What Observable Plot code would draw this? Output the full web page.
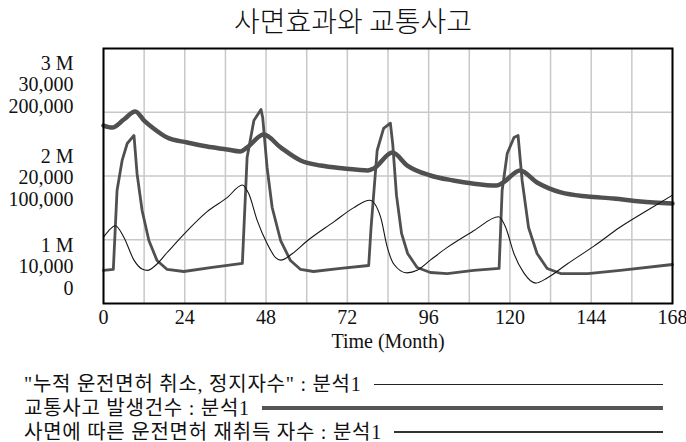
<!DOCTYPE html>
<html><head><meta charset="utf-8">
<script src="https://cdn.jsdelivr.net/npm/d3@7"></script>
<script src="https://cdn.jsdelivr.net/npm/@observablehq/plot@0.6"></script>
<style>
html,body{margin:0;padding:0;background:#fff;}
#wrap{position:relative;width:686px;height:442px;overflow:hidden;font-family:"Liberation Serif","Noto Sans CJK KR",serif;color:#111;background:#fff;}
#title{position:absolute;left:20px;top:0;width:666px;height:40px;line-height:40px;text-align:center;font-family:"Noto Sans CJK KR",sans-serif;font-size:28px;font-weight:300;color:#111;}
#chart{position:absolute;left:0;top:40px;}
#legend{position:absolute;left:24px;top:372px;width:639px;}
.row{display:flex;align-items:center;height:24px;line-height:20px;font-size:20px;letter-spacing:0.75px;white-space:nowrap;}
.row .sw{flex:1;margin-left:12px;}
</style></head><body>
<div id="wrap"><div id="title">사면효과와 교통사고</div><div id="chart"></div><div id="legend"></div></div>
<script>
// ---- data ----
const seriesNames = ['"누적 운전면허 취소, 정지자수" : 분석1', '교통사고 발생건수 : 분석1', '사면에 따른 운전면허 재취득 자수 : 분석1'];
const scaleMin = [1000000, 10000, 0];
const scaleMax = [3000000, 30000, 200000];
const topLabels = ["3 M", "30,000", "200,000"];
const midLabels = ["2 M", "20,000", "100,000"];
const bottomLabels = ["1 M", "10,000", "0"];
const xTicks = [0, 24, 48, 72, 96, 120, 144, 168];
const xGrid = [0, 12, 24, 36, 48, 60, 72, 84, 96, 108, 120, 132, 144, 156, 168];
const xLabel = "Time (Month)";

// 누적 운전면허 취소, 정지자수
const revocMonths = [0,1.5,3.5,6,9,11.4,13,15.4,18.8,24.7,30.6,36.5,41,42.9,45.4,48.3,50.8,52.3,55.7,60.1,68,73.8,78.6,81.8,83.8,85.7,89.6,92.6,96.5,101.5,109.3,116.7,118.7,121.2,124.1,127.6,131,136.9,144.8,152.6,160.5,168];
const revocValues = [1520000,1570000,1610000,1520000,1340000,1270000,1260000,1300000,1400000,1570000,1720000,1830000,1930000,1860000,1650000,1470000,1360000,1340000,1390000,1490000,1640000,1750000,1810000,1680000,1440000,1310000,1240000,1260000,1340000,1440000,1570000,1680000,1600000,1390000,1240000,1160000,1200000,1310000,1450000,1600000,1730000,1850000];

// 교통사고 발생건수
const accMonths = [0,2.6,6,9.4,12,14.8,18.8,24.7,30.6,36.5,40.4,42.4,47.3,52.3,58.2,64.1,71,78,79.8,85.3,89.7,96.5,103.3,109,116,118,123,128,135,142.9,150.6,158.5,168];
const accValues = [23960,23800,24430,25060,24350,23730,23020,22630,22310,22080,21920,22240,23250,22240,21220,20820,20590,20430,20590,21840,20820,20040,19650,19410,19250,19490,20430,19490,18710,18390,18240,18000,17840];

// 사면에 따른 운전면허 재취득 자수
const reacqMonths = [0,2.9,4,5.5,7,9,9.9,11.4,13.4,15.8,18.8,23.7,31.6,41,42.4,44.4,46.5,47,48.3,49.8,52.3,55.2,58.2,62,70,78.3,79,80.8,82.7,84.7,85.4,86.5,88,89.8,92.6,96.5,101.5,109.3,116.8,117.7,119.2,121.2,122.4,123.6,125.5,128,131,135,143,152.6,168];
const reacqValues = [25900,26700,88600,112200,125500,131800,102000,72900,49400,33700,26700,25100,28200,31400,114500,143500,152200,145900,106700,75300,49400,33700,26700,25100,27500,29800,59600,120000,137300,141400,125000,85000,55000,39200,28200,24300,23500,25900,27500,88600,117600,130200,131800,96500,59600,39200,27500,23500,23500,25900,30600];

// ---- build ----
const rows = [];
[[revocMonths, revocValues], [accMonths, accValues], [reacqMonths, reacqValues]].forEach(([ms, vs], si) => {
  ms.forEach((m, i) => rows.push({si, series: seriesNames[si], month: m, value: vs[i]}));
});
const norm = d => (d.value - scaleMin[d.si]) / (scaleMax[d.si] - scaleMin[d.si]);
const styles = [
  {stroke: "#151515", width: 1.1, curve: "monotone-x", legendW: 1.4, legendC: "#222"},
  {stroke: "#505050", width: 4.5, curve: "monotone-x", legendW: 4, legendC: "#555"},
  {stroke: "#505050", width: 2.8, curve: "linear", legendW: 2.5, legendC: "#333"}
];
const lineMark = si => Plot.line(rows.filter(d => d.si === si), {
  x: "month", y: norm, stroke: styles[si].stroke, strokeWidth: styles[si].width,
  curve: styles[si].curve, strokeLinejoin: "round"
});
const gridStyle = {stroke: "#c8c8c8", strokeOpacity: 1, strokeWidth: 1.5};
const yAxisOpts = {tickSize: 0, tickPadding: 30, lineHeight: 1.08, fontSize: 20, label: null};

const chart = Plot.plot({
  width: 686, height: 320,
  marginLeft: 103, marginRight: 14, marginTop: 8, marginBottom: 57,
  x: {domain: [0, 168]},
  y: {domain: [0, 1]},
  style: {fontFamily: "Liberation Serif", fontSize: "20px", color: "#111", background: "white", overflow: "visible"},
  marks: [
    Plot.gridX(xGrid, gridStyle),
    Plot.gridY([0.25, 0.5, 0.75], gridStyle),
    lineMark(1),
    lineMark(2),
    lineMark(0),
    Plot.frame({stroke: "#000", strokeWidth: 2}),
    Plot.axisX(xTicks, {tickSize: 0, tickPadding: 6, fontSize: 20, label: null}),
    Plot.text([xLabel], {frameAnchor: "bottom", dy: 44, fontSize: 20}),
    Plot.axisY([1], {...yAxisOpts, tickFormat: () => topLabels.join("\n"), dy: 36}),
    Plot.axisY([0.5], {...yAxisOpts, tickFormat: () => midLabels.join("\n"), dy: 1.5}),
    Plot.axisY([0], {...yAxisOpts, tickFormat: () => bottomLabels.join("\n"), dy: -37})
  ]
});
document.getElementById("chart").appendChild(chart);

const legend = document.getElementById("legend");
seriesNames.forEach((name, si) => {
  const row = document.createElement("div");
  row.className = "row";
  const t = document.createElement("span");
  t.textContent = name;
  const sw = document.createElement("div");
  sw.className = "sw";
  sw.style.borderTop = `${styles[si].legendW}px solid ${styles[si].legendC}`;
  row.appendChild(t); row.appendChild(sw);
  legend.appendChild(row);
});
</script>
</body></html>
